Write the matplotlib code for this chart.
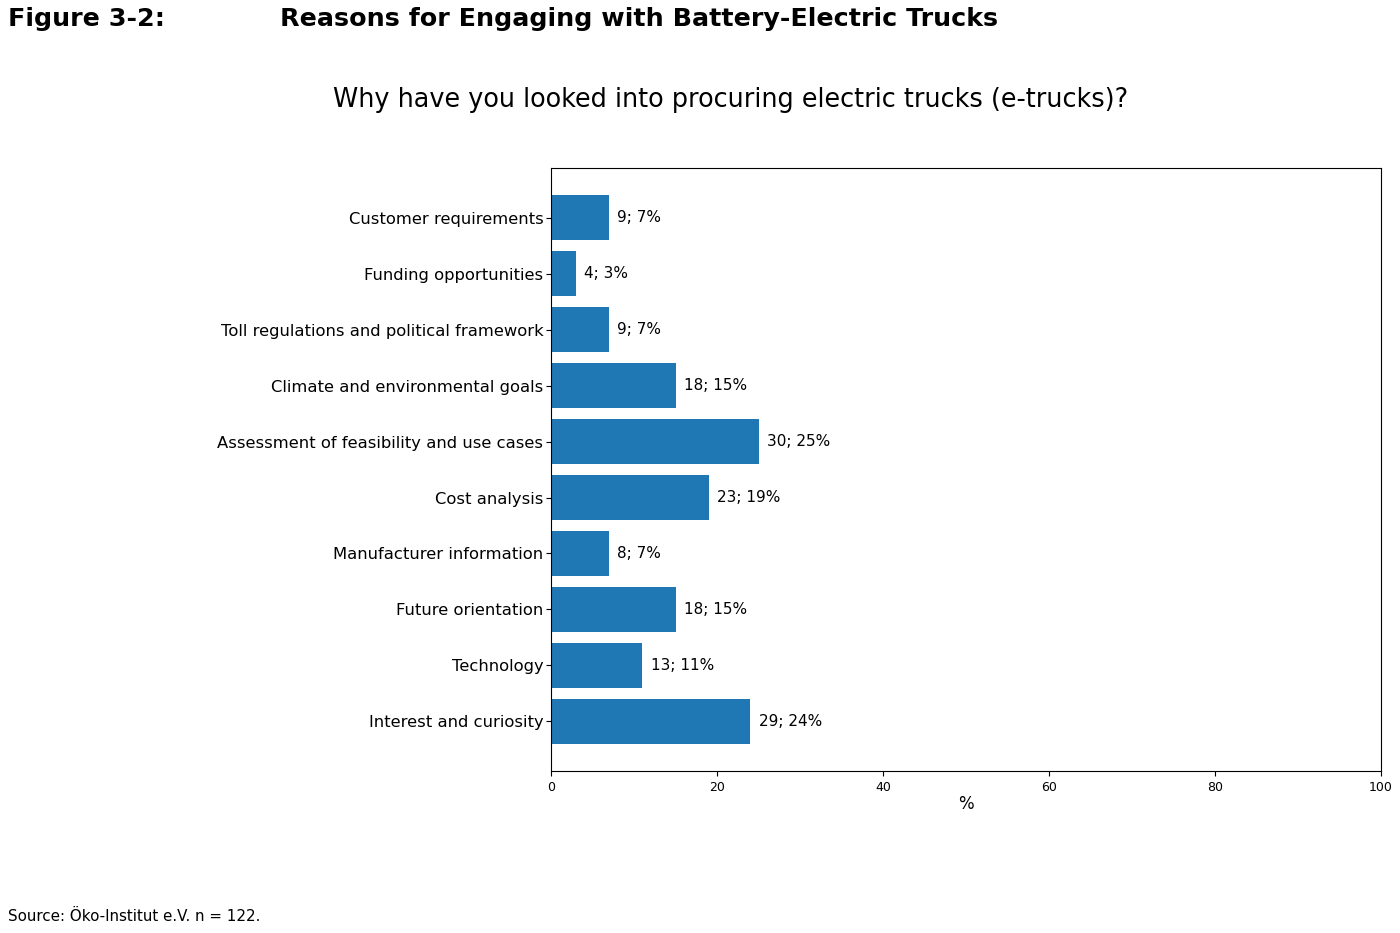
import matplotlib

matplotlib.use("Agg")
import matplotlib.pyplot as plt  # noqa: E402

# survey answers, top to bottom as shown
categories = [
    "Customer requirements",
    "Funding opportunities",
    "Toll regulations and political framework",
    "Climate and environmental goals",
    "Assessment of feasibility and use cases",
    "Cost analysis",
    "Manufacturer information",
    "Future orientation",
    "Technology",
    "Interest and curiosity",
]
counts = [9, 4, 9, 18, 30, 23, 8, 18, 13, 29]
percents = [7, 3, 7, 15, 25, 19, 7, 15, 11, 24]
x_ticks = [0, 20, 40, 60, 80, 100]

fig = plt.figure(figsize=(14, 9.33), dpi=100)
ax = fig.add_axes([0.3936, 0.1736, 0.5928, 0.6463])

ypos = list(range(len(categories)))
ax.barh(ypos, percents, height=0.8, color="#1f77b4")
ax.invert_yaxis()
ax.set_yticks(ypos)
ax.set_yticklabels(categories, fontsize=11.8)
ax.tick_params(axis="y", pad=2)
ax.set_xlim(0, 100)
ax.set_xticks(x_ticks)
ax.tick_params(axis="x", labelsize=9)
ax.set_xlabel("%", fontsize=12, labelpad=1)

for y, c, p in zip(ypos, counts, percents):
    ax.annotate(f"{c}; {p}%", (p, y), xytext=(6, 0), textcoords="offset points",
                va="center", ha="left", fontsize=11)

fig.text(8 / 1400, 1 - 19 / 933, "Figure 3-2:", fontsize=18.3, fontweight="bold",
         va="center", ha="left")
fig.text(280 / 1400, 1 - 19 / 933, "Reasons for Engaging with Battery-Electric Trucks",
         fontsize=18.3, fontweight="bold", va="center", ha="left")
fig.text(731 / 1400, 1 - 100 / 933,
         "Why have you looked into procuring electric trucks (e-trucks)?",
         fontsize=18.4, va="center", ha="center")
fig.text(8 / 1400, 1 - 916 / 933, "Source: Öko-Institut e.V. n = 122.",
         fontsize=10.9, va="center", ha="left")

fig.savefig("out.png", dpi=100)
